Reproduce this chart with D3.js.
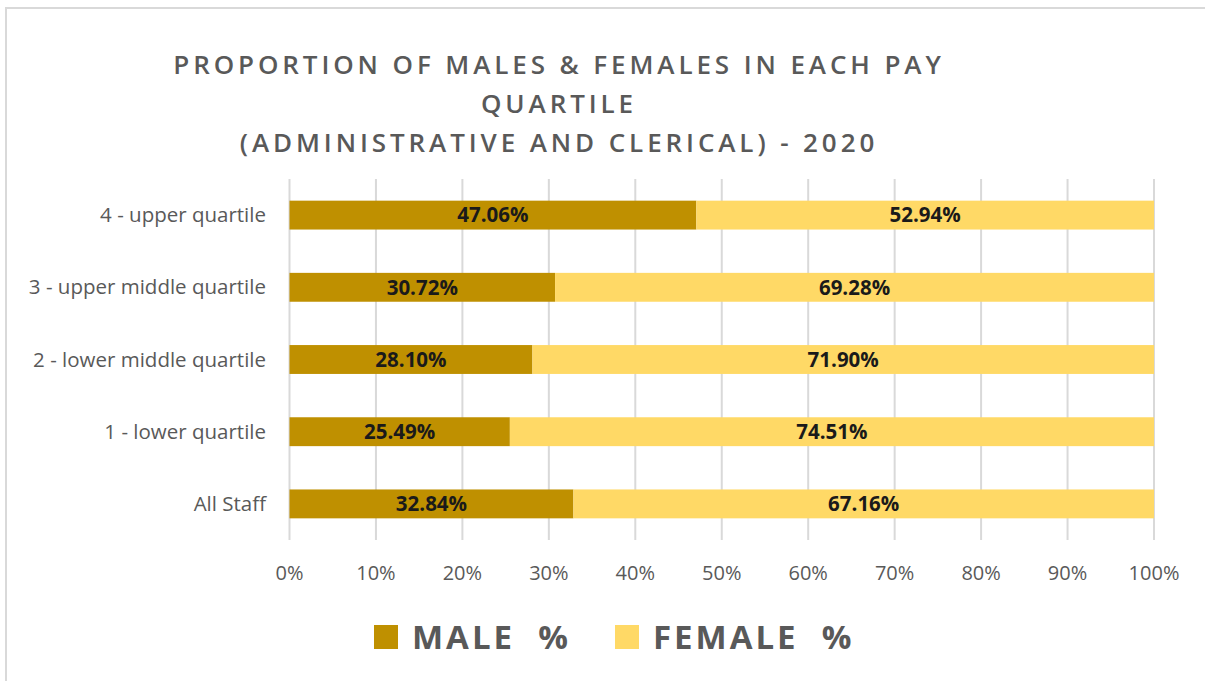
<!DOCTYPE html>
<html>
<head>
<meta charset="utf-8">
<script src="https://cdn.jsdelivr.net/npm/d3@7"></script>
<style>
  html, body { margin: 0; padding: 0; background: #fff; }
  svg { display: block; }
</style>
</head>
<body>
<svg id="chart" width="1205" height="681"></svg>
<script>
"use strict";

// data
const categories = ["4 - upper quartile", "3 - upper middle quartile", "2 - lower middle quartile", "1 - lower quartile", "All Staff"];
const malePct = [47.06, 30.72, 28.10, 25.49, 32.84];
const femalePct = [52.94, 69.28, 71.90, 74.51, 67.16];
const seriesNames = ["MALE %", "FEMALE %"];
const seriesColors = ["#BF9000", "#FFD966"];
const xTicks = [0, 10, 20, 30, 40, 50, 60, 70, 80, 90, 100];
const titleLines = ["PROPORTION OF MALES & FEMALES IN EACH PAY", "QUARTILE", "(ADMINISTRATIVE AND CLERICAL) - 2020"];

// setting
const W = 1205, H = 681;
const plot = { left: 289.5, right: 1154, top: 179, bottom: 540 };

const svg = d3.select("#chart");

// chart frame
svg.append("path")
  .attr("d", `M6,${H} V8 H${W}`)
  .attr("fill", "none")
  .attr("stroke", "#d9d9d9")
  .attr("stroke-width", 2);

// title
svg.append("g").attr("class", "title")
  .selectAll("text")
  .data(titleLines)
  .join("text")
  .attr("x", 559)
  .attr("y", (d, i) => 74 + i * 39)
  .attr("text-anchor", "middle")
  .attr("font-family", "'Open Sans', sans-serif")
  .attr("font-size", 26)
  .attr("font-weight", 600)
  .attr("letter-spacing", 3.9)
  .attr("fill", "#595959")
  .text(d => d);

// scales
const scaleX = d3.scaleLinear().domain([0, 100]).range([plot.left, plot.right]);
const scaleY = d3.scaleBand().domain(categories).range([plot.top, plot.bottom]).paddingInner(0.6).paddingOuter(0.3);

// grid
svg.append("g").attr("class", "grid")
  .selectAll("line")
  .data(xTicks)
  .join("line")
  .attr("x1", d => scaleX(d))
  .attr("x2", d => scaleX(d))
  .attr("y1", plot.top)
  .attr("y2", plot.bottom)
  .attr("stroke", "#d9d9d9")
  .attr("stroke-width", 2);

// x axis labels
svg.append("g").attr("class", "x_axis")
  .selectAll("text")
  .data(xTicks)
  .join("text")
  .attr("x", d => scaleX(d))
  .attr("y", 580)
  .attr("text-anchor", "middle")
  .attr("font-family", "'Open Sans', sans-serif")
  .attr("font-size", 20)
  .attr("fill", "#595959")
  .text(d => d + "%");

// y axis labels
svg.append("g").attr("class", "y_axis")
  .selectAll("text")
  .data(categories)
  .join("text")
  .attr("x", 266)
  .attr("y", d => scaleY(d) + scaleY.bandwidth() / 2)
  .attr("dy", "0.35em")
  .attr("text-anchor", "end")
  .attr("font-family", "'Open Sans', sans-serif")
  .attr("font-size", 20.5)
  .attr("fill", "#595959")
  .text(d => d);

// stacked bars
const rows = categories.map((c, i) => ({ cat: c, vals: [malePct[i], femalePct[i]] }));
const segs = [];
rows.forEach(r => {
  let x0 = 0;
  r.vals.forEach((v, j) => {
    segs.push({ cat: r.cat, s: j, x0: x0, x1: x0 + v, v: v });
    x0 += v;
  });
});

const bars = svg.append("g").attr("class", "bars");
bars.selectAll("rect")
  .data(segs)
  .join("rect")
  .attr("x", d => scaleX(d.x0))
  .attr("width", d => scaleX(d.x1) - scaleX(d.x0))
  .attr("y", d => scaleY(d.cat))
  .attr("height", scaleY.bandwidth())
  .attr("fill", d => seriesColors[d.s]);

bars.selectAll("text")
  .data(segs)
  .join("text")
  .attr("x", d => scaleX((d.x0 + d.x1) / 2))
  .attr("y", d => scaleY(d.cat) + scaleY.bandwidth() / 2)
  .attr("dy", "0.36em")
  .attr("text-anchor", "middle")
  .attr("font-family", "'Open Sans', sans-serif")
  .attr("font-size", 20.5)
  .attr("font-weight", "bold")
  .attr("fill", "#1a1a1a")
  .text(d => d.v.toFixed(2) + "%");

// legend
const legendX = [374, 615];
const legend = svg.append("g").attr("class", "legend");
const items = legend.selectAll("g")
  .data(seriesNames)
  .join("g")
  .attr("transform", (d, i) => `translate(${legendX[i]}, 625)`);
items.append("rect")
  .attr("width", 24)
  .attr("height", 24)
  .attr("fill", (d, i) => seriesColors[i]);
items.append("text")
  .attr("x", 38)
  .attr("y", 12)
  .attr("dy", "0.36em")
  .attr("font-family", "'Open Sans', sans-serif")
  .attr("font-size", 33)
  .attr("font-weight", "bold")
  .attr("letter-spacing", 3)
  .attr("fill", "#595959")
  .text(d => d.replace(" ", "\u00a0\u00a0"));
</script>
</body>
</html>
